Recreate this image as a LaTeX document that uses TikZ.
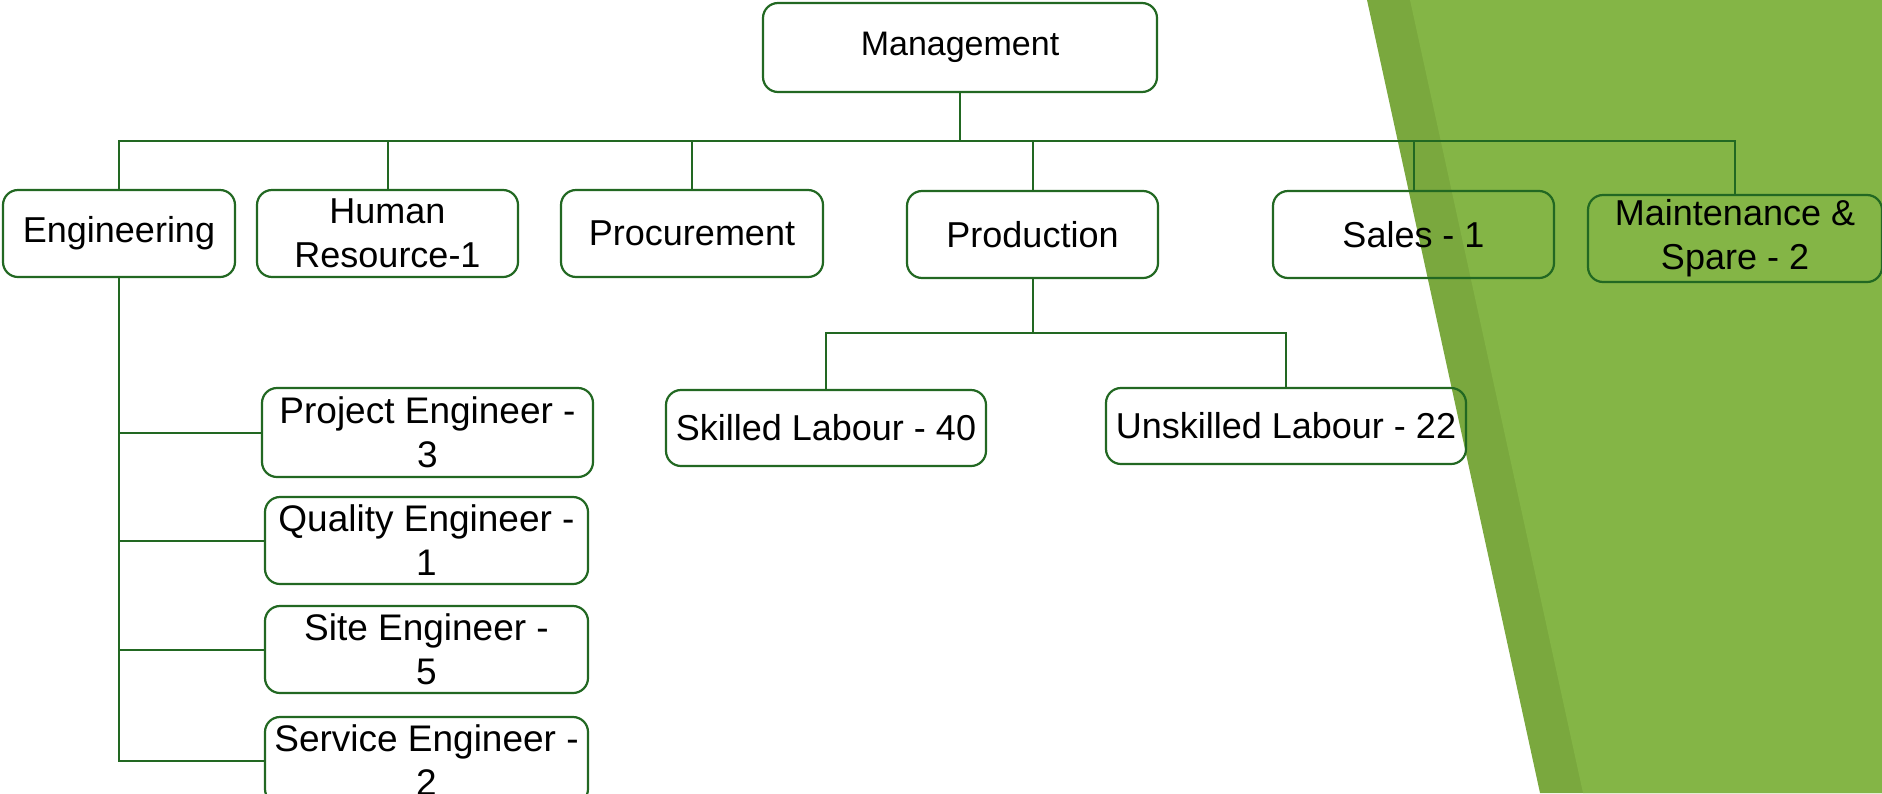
\documentclass[tikz,border=0pt]{standalone}
\usepackage{fontspec}
\setmainfont{Liberation Sans}
\usepackage{xcolor}
\usetikzlibrary{positioning}

\definecolor{boxgreen}{RGB}{34,104,34}
\definecolor{bandlight}{RGB}{132,181,70}
\definecolor{banddark}{RGB}{122,168,62}

\begin{document}
\begin{tikzpicture}[x=0.5pt, y=-0.5pt,
    unit/.style={draw=boxgreen, line width=1.1pt, rounded corners=7.5pt, inner sep=0pt,
        align=center, minimum height=43.5pt, font=\fontsize{18}{22}\selectfont, text=black},
    subunit/.style={unit, minimum width=161.5pt, font=\fontsize{18.5}{22}\selectfont},
    link/.style={draw=boxgreen, line width=1pt}]
    \useasboundingbox (0,0) rectangle (1882,793);
    \clip (0,0) rectangle (1882,793);

    % Green band on the right
    \fill[banddark] (1367,0) -- (1882,0) -- (1882,793) -- (1540,793) -- cycle;
    \fill[bandlight] (1410,0) -- (1882,0) -- (1882,793) -- (1583,793) -- cycle;

    % Top level
    \node[unit, minimum width=197pt, minimum height=44.5pt, font=\fontsize{17}{22}\selectfont] (mgmt) at (960,47.5) {Management};

    % Departments
    \node[unit, minimum width=116pt] (eng) at (119,233.5) {Engineering};
    \node[unit, minimum width=130.5pt] (hr) at (387.5,233.5) {Human\\Resource-1};
    \node[unit, minimum width=131pt] (proc) at (692,233.5) {Procurement};
    \node[unit, minimum width=125.5pt] (prod) at (1032.5,234.5) {Production};
    \node[unit, minimum width=140.5pt] (sales) at (1413.5,234.5) {Sales - 1};
    \node[unit, minimum width=147pt] (maint) at (1735,238.5) {Maintenance \&\\Spare - 2};

    % Production staff
    \node[unit, minimum width=160pt, minimum height=38pt] (skilled) at (826,428) {Skilled Labour - 40};
    \node[unit, minimum width=180pt, minimum height=38pt] (unskilled) at (1286,426) {Unskilled Labour - 22};

    % Engineering staff
    \node[subunit, minimum width=165.5pt, minimum height=44.5pt] (proj) at (427.5,432.5) {Project Engineer -\\3};
    \node[subunit] (qual) at (426.5,540.5) {Quality Engineer -\\1};
    \node[subunit] (site) at (426.5,649.5) {Site Engineer -\\5};
    \node[subunit] (serv) at (426.5,760.5) {Service Engineer -\\2};

    % Connectors
    \coordinate (bus) at (0,141);
    \coordinate (pbus) at (0,333);
    \foreach \dept in {eng, hr, proc, prod, sales, maint}
        \draw[link] (mgmt.south) -- (mgmt.south |- bus) -| (\dept.north);
    \foreach \staff in {skilled, unskilled}
        \draw[link] (prod.south) -- (prod.south |- pbus) -| (\staff.north);
    \foreach \staff in {proj, qual, site, serv}
        \draw[link] (eng.south) |- (\staff.west);
\end{tikzpicture}
\end{document}
